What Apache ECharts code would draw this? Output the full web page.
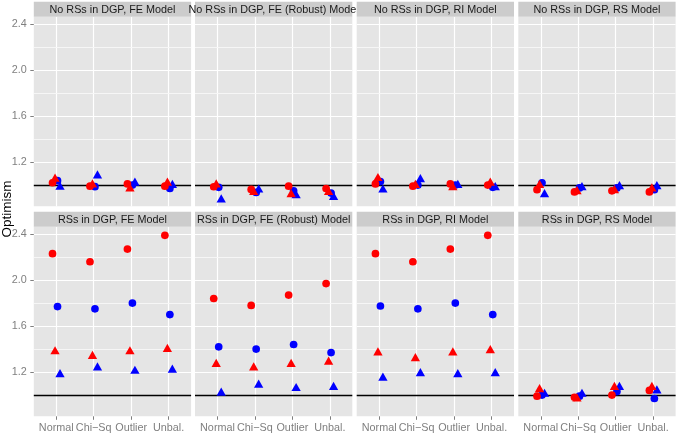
<!DOCTYPE html>
<html><head><meta charset="utf-8">
<script src="https://cdn.jsdelivr.net/npm/echarts@6/dist/echarts.min.js"></script>
<style>html,body{margin:0;padding:0;background:#fff}#c{width:679px;height:434px}</style>
</head><body><div id="c"></div>
<script>
const categories = ['Normal', 'Chi\u2212Sq', 'Outlier', 'Unbal.'];
const panelTitles = [
  'No RSs in DGP, FE Model', 'No RSs in DGP, FE (Robust) Model', 'No RSs in DGP, RI Model', 'No RSs in DGP, RS Model',
  'RSs in DGP, FE Model', 'RSs in DGP, FE (Robust) Model', 'RSs in DGP, RI Model', 'RSs in DGP, RS Model'
];
const yTicks = [1.2, 1.6, 2.0, 2.4];
const yMinor = [1.0, 1.4, 1.8, 2.2];
const refLine = 1.0;
const yTitle = 'Optimism';

// values per panel (row-major order), per category
const redCircle = [
  [1.02, 0.99, 1.01, 0.99],
  [0.985, 0.962, 0.99, 0.97],
  [1.01, 0.99, 1.01, 1.00],
  [0.96, 0.94, 0.95, 0.94],
  [2.23, 2.16, 2.27, 2.39],
  [1.84, 1.78, 1.87, 1.97],
  [2.23, 2.16, 2.27, 2.39],
  [0.99, 0.98, 1.00, 1.04]
];
const redTriangle = [
  [1.065, 1.015, 0.98, 1.03],
  [1.015, 0.95, 0.93, 0.95],
  [1.07, 1.01, 0.99, 1.03],
  [1.01, 0.955, 0.965, 0.98],
  [1.39, 1.35, 1.39, 1.41],
  [1.28, 1.25, 1.28, 1.30],
  [1.38, 1.33, 1.38, 1.40],
  [1.06, 0.98, 1.08, 1.08]
];
const blueCircle = [
  [1.038, 0.986, 1.00, 0.97],
  [0.98, 0.936, 0.95, 0.93],
  [1.03, 1.00, 1.00, 0.98],
  [1.02, 0.975, 0.975, 0.96],
  [1.77, 1.75, 1.80, 1.70],
  [1.42, 1.40, 1.44, 1.37],
  [1.775, 1.75, 1.80, 1.70],
  [1.00, 0.99, 1.03, 0.97]
];
const blueTriangle = [
  [0.994, 1.093, 1.03, 1.01],
  [0.884, 0.97, 0.92, 0.905],
  [0.97, 1.06, 1.01, 0.99],
  [0.93, 0.99, 1.00, 1.00],
  [1.19, 1.25, 1.22, 1.23],
  [1.03, 1.10, 1.07, 1.08],
  [1.16, 1.20, 1.19, 1.20],
  [1.02, 1.02, 1.08, 1.05]
];

const chart = echarts.init(document.getElementById('c'), null, {renderer: 'canvas'});
const FONT = 'Liberation Sans, Arial, Helvetica, sans-serif';
const colLeft = [33.8, 195.0, 356.7, 518.3];
const rowTop = [16.7, 226.7];
const pw = 157.3, ph = 189.6, stripH = 15;

const groups = [
  {data: blueCircle, off: 0.033, color: '#0000FF', symbol: 'circle', size: 7.7},
  {data: blueTriangle, off: 0.1, color: '#0000FF', symbol: 'triangle', size: [9.3, 8.2]},
  {data: redCircle, off: -0.1, color: '#FF0000', symbol: 'circle', size: 7.7},
  {data: redTriangle, off: -0.033, color: '#FF0000', symbol: 'triangle', size: [9.3, 8.2]}
];

const grids = [], xAxes = [], yAxes = [], series = [], graphics = [];
for (let p = 0; p < 8; p++) {
  const r = Math.floor(p / 4), c = p % 4;
  grids.push({left: colLeft[c], top: rowTop[r], width: pw, height: ph, show: true,
    backgroundColor: '#E5E5E5', borderWidth: 0});
  xAxes.push({type: 'value', gridIndex: p, min: 0.4, max: 4.6,
    axisLine: {show: false},
    axisTick: {show: r === 1, customValues: [1, 2, 3, 4], length: 3.5, lineStyle: {color: '#7F7F7F'}},
    axisLabel: {show: r === 1, customValues: [1, 2, 3, 4], formatter: v => categories[Math.round(v) - 1],
      color: '#7F7F7F', fontSize: 10.8, fontFamily: FONT, margin: 6},
    splitLine: {show: true, lineStyle: {color: '#FFFFFF', width: 1.2}}
  });
  yAxes.push({type: 'value', gridIndex: p, min: 0.815, max: 2.465,
    axisLine: {show: false},
    axisTick: {show: c === 0, customValues: yTicks, length: 3.5, lineStyle: {color: '#7F7F7F'}},
    axisLabel: {show: c === 0, customValues: yTicks, formatter: v => v.toFixed(1),
      color: '#7F7F7F', fontSize: 10.8, fontFamily: FONT, margin: 7},
    splitLine: {show: true, lineStyle: {color: '#FFFFFF', width: 1.2}}
  });
  groups.forEach((g, gi) => {
    const s = {
      type: 'scatter', xAxisIndex: p, yAxisIndex: p, silent: true, animation: false,
      symbol: g.symbol, symbolSize: g.size,
      itemStyle: {color: g.color, opacity: 1},
      data: g.data[p].map((v, i) => [i + 1 + g.off, v])
    };
    if (gi === 0) {
      s.markLine = {
        z: 1, silent: true, symbol: 'none', animation: false, label: {show: false},
        data: yMinor.map(v => ({yAxis: v, lineStyle: {color: '#F7F7F7', width: 0.9, type: 'solid'}}))
          .concat([{yAxis: refLine, lineStyle: {color: '#000000', width: 1.3, type: 'solid'}}])
      };
    }
    series.push(s);
  });
  graphics.push({type: 'rect', z: 10, z2: 2 * p, silent: true,
    shape: {x: colLeft[c], y: rowTop[r] - stripH, width: pw, height: stripH},
    style: {fill: '#CCCCCC'}});
  graphics.push({type: 'text', z: 10, z2: 2 * p + 1, silent: true,
    x: colLeft[c] + pw / 2, y: rowTop[r] - stripH / 2 + 0.5,
    style: {text: panelTitles[p], fill: '#1A1A1A', font: '10.8px ' + FONT,
      textAlign: 'center', textVerticalAlign: 'middle', align: 'center', verticalAlign: 'middle'}});
}
graphics.push({type: 'text', z: 10, silent: true, x: 7, y: 209, rotation: Math.PI / 2,
  style: {text: yTitle, fill: '#000000', font: '13.5px ' + FONT,
    textAlign: 'center', textVerticalAlign: 'middle', align: 'center', verticalAlign: 'middle'}});

chart.setOption({
  animation: false,
  backgroundColor: '#FFFFFF',
  grid: grids, xAxis: xAxes, yAxis: yAxes, series: series,
  graphic: {elements: graphics}
});
</script></body></html>
